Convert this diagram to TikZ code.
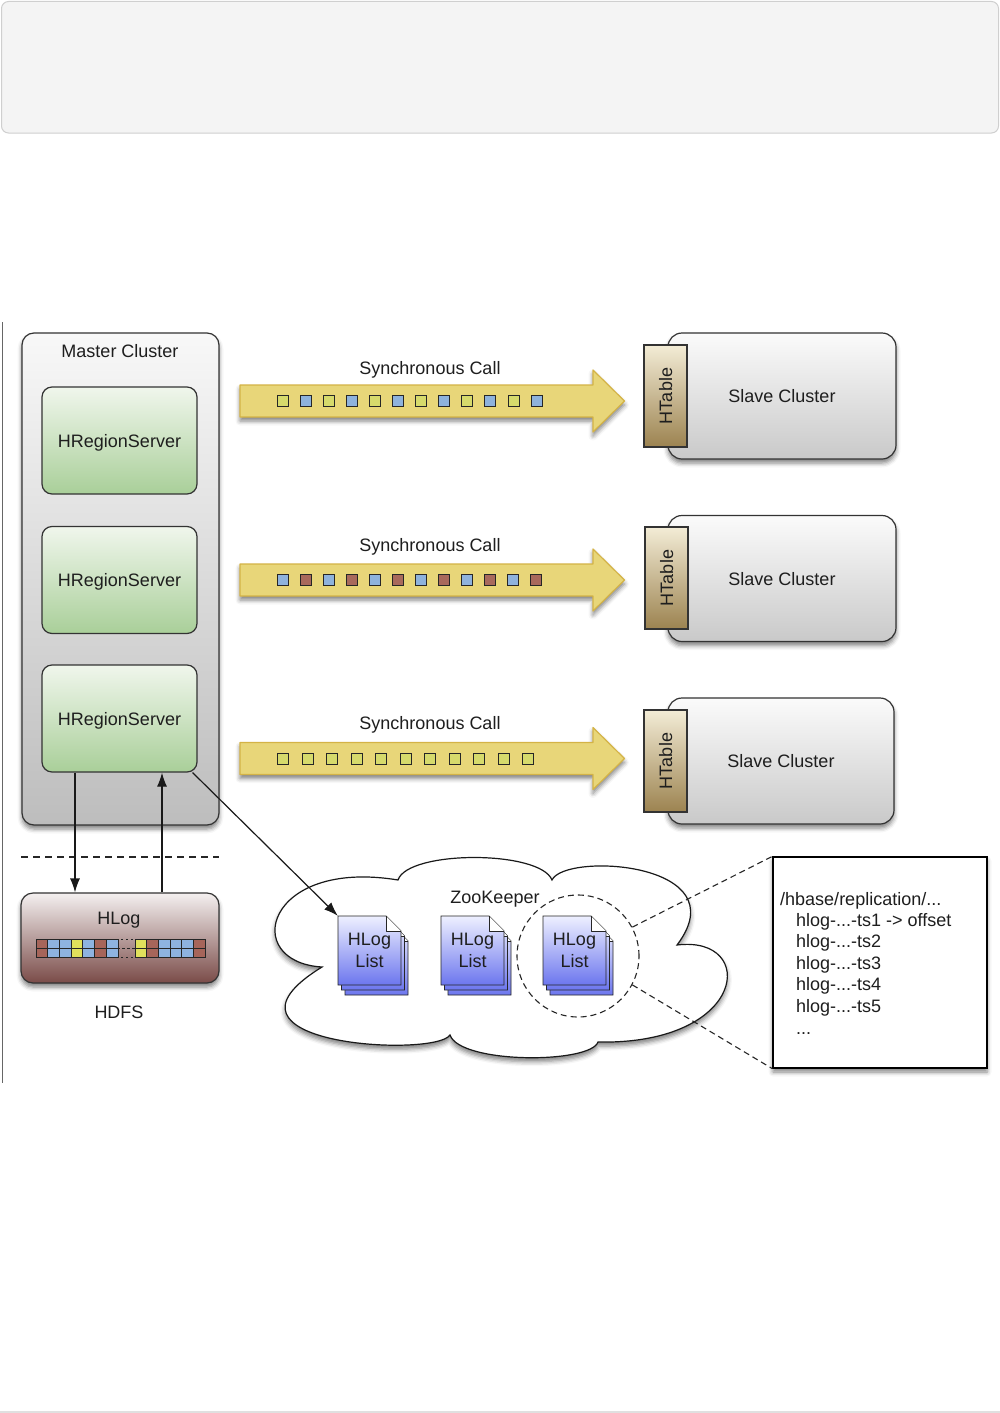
\documentclass[tikz,border=0pt]{standalone}
\usepackage{fontspec}
\setmainfont{Liberation Sans}
\usetikzlibrary{arrows.meta,shadows.blur,calc}
\definecolor{txt}{HTML}{1E1E1E}
\definecolor{topfill}{HTML}{F4F4F4}
\definecolor{topborder}{HTML}{CFCFCF}
\definecolor{mTop}{HTML}{F8F8F8}
\definecolor{mBot}{HTML}{BDBDBD}
\definecolor{gTop}{HTML}{F0F6EC}
\definecolor{gBot}{HTML}{A9CF99}
\definecolor{sTop}{HTML}{FBFBFB}
\definecolor{sBot}{HTML}{C9C9C9}
\definecolor{hTop}{HTML}{F3ECD6}
\definecolor{hBot}{HTML}{9C8350}
\definecolor{lTop}{HTML}{F4F0F0}
\definecolor{lBot}{HTML}{7A4B48}
\definecolor{docTop}{HTML}{EEF0FF}
\definecolor{docBot}{HTML}{6C76EE}
\definecolor{arrFill}{HTML}{E8D679}
\definecolor{arrDraw}{HTML}{D4B346}
\definecolor{sqY}{HTML}{D6DA6C}
\definecolor{sqB}{HTML}{8EB2DC}
\definecolor{sqBr}{HTML}{A8695C}
\definecolor{cBr}{HTML}{A6655A}
\definecolor{cBl}{HTML}{8EB3E0}
\definecolor{cYe}{HTML}{E0E05C}
\newcommand\myfont{\fontsize{18}{22}\selectfont}
\newcommand\fatarrow[1]{%
  \filldraw[fatarr] (240,{#1-16}) -- (593,{#1-16}) -- (593,{#1-31}) -- (624.5,#1)
    -- (593,{#1+31}) -- (593,{#1+16}) -- (240,{#1+16}) -- cycle;}
\newcommand\hlogpage[2]{%
  \shade[draw=black!85, line width=0.9pt, top color=docTop, bottom color=docBot]
    (#1,#2) -- ({#1+48},#2) -- ({#1+63},{#2+15}) -- ({#1+63},{#2+69}) -- (#1,{#2+69}) -- cycle;
  \filldraw[fill=white, draw=black!85, line width=0.9pt, line join=round]
    ({#1+48},#2) -- ({#1+48},{#2+15}) -- ({#1+63},{#2+15});}
\newcommand\hlogstack[2]{%
  \hlogpage{#1+7}{#2+10}\hlogpage{#1+3.5}{#2+5}\hlogpage{#1}{#2}}
\begin{document}
\begin{tikzpicture}[x=1pt,y=-1pt,
  lbl/.style={font=\myfont, text=txt, inner sep=0pt, text height=13pt, text depth=0pt},
  shadowed/.style={blur shadow={shadow xshift=0pt, shadow yshift=-4pt, shadow blur radius=4.5pt, shadow opacity=50}},
  rbox/.style={draw=black!80, line width=1.2pt},
  master/.style={rbox, rounded corners=12pt, shadowed, top color=mTop, bottom color=mBot, minimum width=197pt, minimum height=492pt},
  hrs/.style={rbox, rounded corners=10pt, top color=gTop, bottom color=gBot, minimum width=155pt, minimum height=107pt, font=\myfont, text=txt, text height=13pt, text depth=0pt},
  slave/.style={rbox, rounded corners=14pt, shadowed, top color=sTop, bottom color=sBot, minimum width=228pt, minimum height=126pt, font=\myfont, text=txt, text height=13pt, text depth=0pt},
  htab/.style={rbox, top color=hTop, bottom color=hBot, minimum width=43pt, minimum height=102pt},
  fatarr/.style={fill=arrFill, draw=arrDraw, line width=1.2pt, line join=round, shadowed},
  sq/.style={draw=black!85, line width=1pt},
  cell/.style={draw=black!85, line width=0.8pt},
  conn/.style={draw=black!90, line width=1.2pt, -{Latex[length=14pt,width=10pt]}},
  dashsep/.style={draw=black!85, line width=1.2pt, dash pattern=on 7pt off 5pt},
  dashln/.style={draw=black!85, line width=1.1pt, dash pattern=on 6pt off 4pt},
  doclbl/.style={font=\myfont, text=txt, align=center, inner sep=0pt, minimum width=63pt, minimum height=69pt},
  cloudst/.style={fill=white, draw=black!90, line width=1.2pt, shadowed}
]
\useasboundingbox (0,0) rectangle (1000,1413);

% page furniture
\draw[draw=topborder, fill=topfill, rounded corners=7pt, line width=1pt] (1.5,1.5) rectangle (998.5,133);
\draw[draw=black!60, line width=1.2pt] (2.5,322) -- (2.5,1083);
\draw[draw=black!12, line width=1.5pt] (0,1412) -- (1000,1412);

% master cluster
\node[master] (master) at (120.5,579) {};
\node[lbl] (mlabel) at (120,351) {Master Cluster};
\node[hrs] (hrs1) at (119.5,440.5) {HRegionServer};
\node[hrs] (hrs2) at (119.5,580) {HRegionServer};
\node[hrs] (hrs3) at (119.5,718.5) {HRegionServer};

% synchronous calls
\fatarrow{401}
\fatarrow{580}
\fatarrow{758.5}
\node[lbl] (call1) at (430,368) {Synchronous Call};
\node[lbl] (call2) at (430,545) {Synchronous Call};
\node[lbl] (call3) at (430,723) {Synchronous Call};
\foreach \i in {0,2,...,10} {\filldraw[sq, fill=sqY] ({282.5+23.1*\i-5.5},395.5) rectangle ++(11,11);}
\foreach \i in {1,3,...,11} {\filldraw[sq, fill=sqB] ({282.5+23.1*\i-5.5},395.5) rectangle ++(11,11);}
\foreach \i in {0,2,...,10} {\filldraw[sq, fill=sqB] ({282.5+23.0*\i-5.5},574.5) rectangle ++(11,11);}
\foreach \i in {1,3,...,11} {\filldraw[sq, fill=sqBr] ({282.5+23.0*\i-5.5},574.5) rectangle ++(11,11);}
\foreach \i in {0,...,10} {\filldraw[sq, fill=sqY] ({283+24.5*\i-5.5},753) rectangle ++(11,11);}

% slave clusters
\node[slave] (slave1) at (782,396) {Slave Cluster};
\node[htab] (ht1) at (665.5,396) {};
\node[lbl, rotate=90] (ht1t) at (ht1) {HTable};
\node[slave] (slave2) at (782,578.5) {Slave Cluster};
\node[htab] (ht2) at (666.5,578) {};
\node[lbl, rotate=90] (ht2t) at (ht2) {HTable};
\node[slave, minimum width=226pt] (slave3) at (781,761) {Slave Cluster};
\node[htab] (ht3) at (665.5,761) {};
\node[lbl, rotate=90] (ht3t) at (ht3) {HTable};

% HDFS / HLog
\draw[dashsep] (21,857) -- (219,857);
\node[rbox, rounded corners=12pt, shadowed, top color=lTop, bottom color=lBot, minimum width=198pt, minimum height=90pt] (hlog) at (120,938) {};
\node[lbl] (hlogt) at (119,918) {HLog};
\foreach \c [count=\k from 0] in {cBr,cBl,cBl,cYe,cBl,cBr,cBl} {
  \filldraw[cell, fill=\c] ({36+11.7*\k},939) rectangle ++(11.7,9);
  \filldraw[cell, fill=\c] ({36+11.7*\k},948) rectangle ++(11.7,9);}
\foreach \c [count=\k from 0] in {cYe,cBr,cBl,cBl,cBl,cBr} {
  \filldraw[cell, fill=\c] ({135+11.7*\k},939) rectangle ++(11.7,9);
  \filldraw[cell, fill=\c] ({135+11.7*\k},948) rectangle ++(11.7,9);}
\draw[black!85, line width=1pt, dash pattern=on 2pt off 3pt] (121,939) -- (134,939);
\draw[black!85, line width=1pt, dash pattern=on 3pt off 2pt] (117,948) -- (135,948);
\draw[black!85, line width=1pt, dash pattern=on 2pt off 3pt] (121,957) -- (134,957);
\node[lbl] (hdfs) at (119,1012) {HDFS};

% ZooKeeper cloud
\filldraw[cloudst] (322,967) .. controls (240,962) and (265,858) .. (398,880)
  .. controls (408,850) and (540,850) .. (552,880)
  .. controls (565,852) and (740,862) .. (677,945)
  .. controls (758,935) and (748,1045) .. (598,1042)
  .. controls (590,1064) and (460,1064) .. (450,1035)
  .. controls (435,1058) and (195,1045) .. (322,967) -- cycle;
\node[lbl] (zk) at (495,897) {ZooKeeper};
\hlogstack{338}{916}
\hlogstack{441}{916}
\hlogstack{543}{916}
\node[doclbl] (doc1) at (369.5,950.5) {HLog\\List};
\node[doclbl] (doc2) at (472.5,950.5) {HLog\\List};
\node[doclbl] (doc3) at (574.5,950.5) {HLog\\List};
\node[draw=black!85, line width=1.1pt, dash pattern=on 6pt off 4pt, circle, minimum size=122pt, inner sep=0pt] (zc) at (578,956) {};

% callout
\node[draw=black, line width=1.3pt, fill=white, shadowed, minimum width=214pt, minimum height=211pt, inner sep=0pt] (callout) at (880,962.5) {};
\node[lbl, anchor=base west] (p0) at (780,905.5) {/hbase/replication/...};
\node[lbl, anchor=base west] (p1) at (796,926.5) {hlog-...-ts1 -> offset};
\node[lbl, anchor=base west] (p2) at (796,947.5) {hlog-...-ts2};
\node[lbl, anchor=base west] (p3) at (796,969.5) {hlog-...-ts3};
\node[lbl, anchor=base west] (p4) at (796,990.5) {hlog-...-ts4};
\node[lbl, anchor=base west] (p5) at (796,1012.5) {hlog-...-ts5};
\node[lbl, anchor=base west] (p6) at (796,1034) {...};
\draw[dashln] (zc.28) -- (callout.north west);
\draw[dashln] (zc.-28) -- (callout.south west);

% connectors
\draw[conn] ([xshift=-44.5pt]hrs3.south) -- ([xshift=-45pt]hlog.north);
\draw[conn] ([xshift=42pt]hlog.north) -- ([xshift=42.5pt]hrs3.south);
\draw[conn] ([xshift=-5pt]hrs3.south east) -- (doc1.north west);
\end{tikzpicture}
\end{document}
